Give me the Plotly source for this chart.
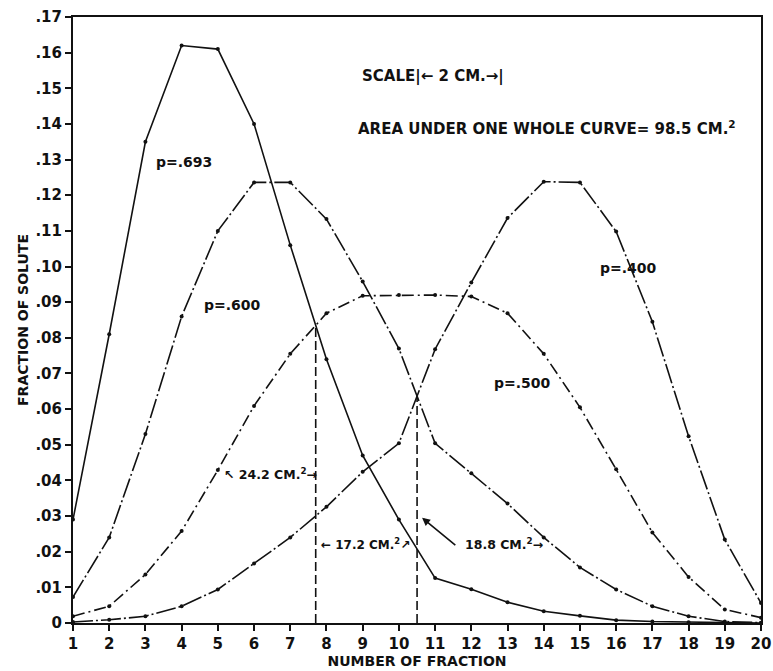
import plotly.graph_objects as go

# Fraction number (tube) and solute fraction found in each, for four partition values
fractions = list(range(1, 21))
p693 = [0.029, 0.081, 0.135, 0.162, 0.161, 0.140, 0.106, 0.074, 0.047, 0.029,
        0.0126, 0.0095, 0.0058, 0.0033, 0.0020, 0.0008, 0.0004, 0.0002, 0.0001, 0.0]
p600 = [0.0073, 0.024, 0.053, 0.086, 0.110, 0.1236, 0.1236, 0.1133, 0.0958, 0.077,
        0.0504, 0.042, 0.0335, 0.024, 0.0156, 0.0094, 0.0047, 0.0019, 0.0004, 0.0001]
p500 = [0.0019, 0.0047, 0.0136, 0.0258, 0.0429, 0.0609, 0.0755, 0.0869, 0.0918, 0.092,
        0.092, 0.0916, 0.0869, 0.0755, 0.0605, 0.0431, 0.0254, 0.0129, 0.0038, 0.0015]
p400 = [0.0003, 0.0009, 0.0019, 0.0047, 0.0094, 0.0167, 0.024, 0.0326, 0.0424, 0.0504,
        0.0768, 0.0955, 0.1136, 0.1238, 0.1236, 0.1098, 0.0845, 0.0524, 0.0234, 0.0056]

y_ticks = [i / 100 for i in range(0, 18)]
y_tick_text = ["0"] + ["." + f"{i:02d}" for i in range(1, 18)]

FONT = "DejaVu Sans"
INK = "#111111"


def crossing(a, b, start):
    """Linear crossing of two curves between fraction `start` and `start`+1."""
    i = fractions.index(start)
    da = a[i] - b[i]
    db = a[i + 1] - b[i + 1]
    t = da / (da - db)
    return fractions[i] + t, a[i] + t * (a[i + 1] - a[i])


fig = go.Figure()

styles = [
    (p693, "solid"),
    (p600, "20px,3px,2px,3px"),
    (p500, "12px,4px,2px,4px"),
    (p400, "20px,3px,2px,3px"),
]
for ys, dash in styles:
    fig.add_trace(go.Scatter(
        x=fractions, y=ys, mode="lines+markers",
        line=dict(color=INK, width=1.6, dash=dash),
        marker=dict(size=4, color=INK),
        hoverinfo="skip", showlegend=False))

# Dividing lines dropped from the curve crossings
for a, b, start in [(p693, p500, 7), (p600, p400, 10)]:
    xc, yc = crossing(a, b, start)
    fig.add_trace(go.Scatter(
        x=[xc, xc], y=[0, yc], mode="lines",
        line=dict(color=INK, width=1.6, dash="9px,4px"),
        hoverinfo="skip", showlegend=False))


def font(size):
    return dict(family=FONT, size=size, color=INK, weight="bold")


labels = [
    (4.07, 0.1294, "p=.693", font(14), "center"),
    (5.40, 0.0892, "p=.600", font(14), "center"),
    (13.40, 0.0673, "p=.500", font(14), "center"),
    (16.35, 0.0995, "p=.400", font(14), "center"),
    (8.93, 0.1533, "SCALE|\u2190 2 CM.\u2192|", font(15), "left"),
    (8.82, 0.1388, "AREA UNDER ONE WHOLE CURVE= 98.5 CM.<sup>2</sup>", font(15), "left"),
    (5.12, 0.0418, "\u2196 24.2 CM.<sup>2</sup>\u2192", font(12.5), "left"),
    (7.80, 0.0222, "\u2190 17.2 CM.<sup>2</sup>\u2197", font(12), "left"),
    (11.77, 0.0222, "18.8 CM.<sup>2</sup>\u2192", font(12.5), "left"),
]
for x, y, t, f, anchor in labels:
    fig.add_annotation(x=x, y=y, text=t, showarrow=False, font=f,
                       xanchor=anchor, yanchor="middle")

# Pointer from the 18.8 label to the second dividing line
fig.add_annotation(x=10.64, y=0.0295, ax=11.6, ay=0.0215, axref="x", ayref="y",
                   text="", showarrow=True, arrowhead=2, arrowsize=1,
                   arrowwidth=1.6, arrowcolor=INK)

axis_common = dict(
    showgrid=False, zeroline=False, showline=True, linecolor=INK, linewidth=2,
    mirror=True, ticks="outside", ticklen=6, tickwidth=1.6, tickcolor=INK,
    tickfont=font(15), automargin=False,
)

fig.update_layout(
    width=773, height=671,
    margin=dict(l=73, r=12, t=17, b=48, autoexpand=False),
    paper_bgcolor="white", plot_bgcolor="white",
    xaxis=dict(range=[1, 20], tickvals=fractions,
               ticktext=[str(v) for v in fractions],
               title=dict(text="NUMBER OF FRACTION", standoff=0, font=font(14)),
               **axis_common),
    yaxis=dict(range=[0, 0.17], tickvals=y_ticks, ticktext=y_tick_text,
               title=dict(text="FRACTION OF SOLUTE", standoff=4, font=font(14)),
               **axis_common),
)

fig.write_html("out.html")
